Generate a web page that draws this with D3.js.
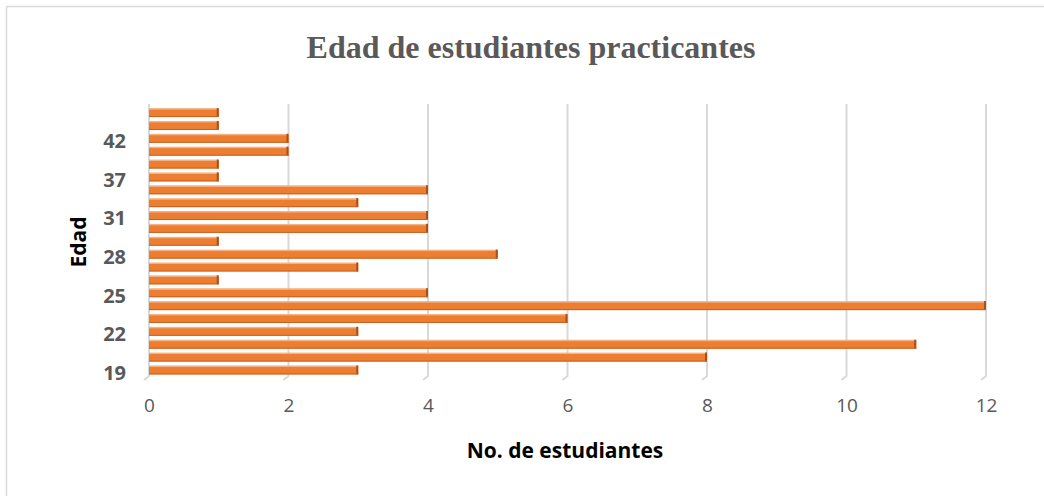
<!DOCTYPE html>
<html>
<head>
<meta charset="utf-8">
<script src="https://cdn.jsdelivr.net/npm/d3@7"></script>
<style>
  body { margin: 0; background: #fff; }
  svg { display: block; }
</style>
</head>
<body>
<svg id="chart" width="1044" height="496"></svg>
<script>
// Ages (bottom to top) and number of students per age
const ages = ["19","20","21","22","23","24","25","26","27","28","29","30","31","33","35","37","38","40","42","43","45"];
const students = [3, 8, 11, 3, 6, 12, 4, 1, 3, 5, 1, 4, 4, 3, 4, 1, 1, 2, 2, 1, 1];
const xTicks = [0, 2, 4, 6, 8, 10, 12];
const yTickLabels = ["19","22","25","28","31","37","42"];

const data = ages.map((a, i) => ({ age: a, n: students[i] }));

const svg = d3.select("#chart");
const W = 1044, H = 496;

// Outer chart frame (top and left edges visible)
svg.append("line").attr("x1", 6.5).attr("y1", 6.5).attr("x2", W).attr("y2", 6.5)
  .attr("stroke", "#D9D9D9").attr("stroke-width", 1.5);
svg.append("line").attr("x1", 6.5).attr("y1", 6.5).attr("x2", 6.5).attr("y2", H)
  .attr("stroke", "#D9D9D9").attr("stroke-width", 1.5);

const x = d3.scaleLinear().domain([0, 12]).range([149, 986]);
const y = d3.scaleBand().domain(ages).range([377, 106.5]).paddingInner(0.38).paddingOuter(0.2);

const gridTop = 104, gridBottom = 376;

// Vertical gridlines with the small floor slant at the bottom
const grid = svg.append("g");
xTicks.forEach(t => {
  const gx = x(t);
  grid.append("path")
    .attr("d", `M${gx},${gridTop} L${gx},${gridBottom} L${gx - 5},${gridBottom + 4}`)
    .attr("fill", "none").attr("stroke", "#D9D9D9").attr("stroke-width", 2);
});

// Bars: front face, lighter top edge and darker end cap
const bars = svg.append("g");
data.forEach(d => {
  const by = y(d.age), bh = y.bandwidth();
  const bw = x(d.n) - x(0);
  bars.append("rect").attr("x", x(0)).attr("y", by).attr("width", bw).attr("height", bh)
    .attr("fill", "#ED7D31");
  bars.append("rect").attr("x", x(0)).attr("y", by - 1).attr("width", bw).attr("height", 1.5)
    .attr("fill", "#F4B183");
  bars.append("rect").attr("x", x(d.n) - 2).attr("y", by - 1).attr("width", 2).attr("height", bh + 1)
    .attr("fill", "#A84F1A");
  bars.append("rect").attr("x", x(0)).attr("y", by + bh - 1).attr("width", bw).attr("height", 1)
    .attr("fill", "#C9621F");
});

// X axis tick labels
const xAxis = d3.axisBottom(x).tickValues(xTicks).tickSize(0).tickPadding(0);
const gx = svg.append("g").attr("transform", `translate(0, 399)`).call(xAxis);
gx.select(".domain").remove();
gx.selectAll("text")
  .attr("font-family", "Open Sans, Lato, sans-serif")
  .attr("font-size", 19).attr("fill", "#595959").attr("dy", "0.7em");

// Y axis labels (every third age)
const yAxis = d3.axisLeft(y).tickValues(yTickLabels).tickSize(0).tickPadding(0);
const gy = svg.append("g").attr("transform", `translate(126, 3)`).call(yAxis);
gy.select(".domain").remove();
gy.selectAll("text")
  .attr("font-family", "Open Sans, Lato, sans-serif")
  .attr("font-weight", "bold")
  .attr("font-size", 20).attr("fill", "#595959");

// Title
svg.append("text").attr("x", 531).attr("y", 58).attr("text-anchor", "middle")
  .attr("font-family", "Liberation Serif, Times New Roman, serif")
  .attr("font-weight", "bold").attr("font-size", 32).attr("fill", "#595959")
  .text("Edad de estudiantes practicantes");

// Axis titles
svg.append("text").attr("x", 565).attr("y", 458).attr("text-anchor", "middle")
  .attr("font-family", "Open Sans, Lato, sans-serif")
  .attr("font-weight", "bold").attr("font-size", 21).attr("fill", "#000")
  .text("No. de estudiantes");

svg.append("text").attr("transform", "translate(86, 242) rotate(-90)").attr("text-anchor", "middle")
  .attr("font-family", "Open Sans, Lato, sans-serif")
  .attr("font-weight", "bold").attr("font-size", 21).attr("fill", "#000")
  .text("Edad");
</script>
</body>
</html>
